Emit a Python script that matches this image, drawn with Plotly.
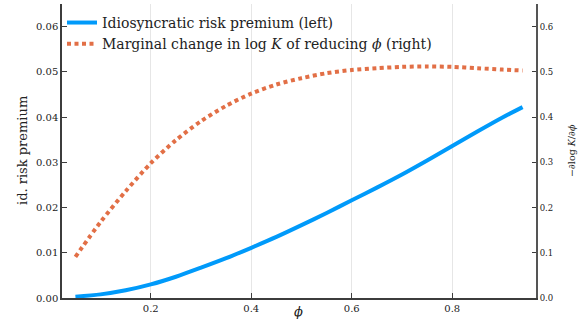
import plotly.graph_objects as go

phi = [0.05, 0.10, 0.15, 0.20, 0.25, 0.30, 0.35, 0.40, 0.45, 0.50,
       0.55, 0.60, 0.65, 0.70, 0.75, 0.80, 0.85, 0.90, 0.94]
risk_premium = [0.0003, 0.0008, 0.0017, 0.0030, 0.0047, 0.0067, 0.0088, 0.0111, 0.0135, 0.0161,
                0.0188, 0.0216, 0.0244, 0.0273, 0.0304, 0.0336, 0.0368, 0.0399, 0.0422]
marginal_logK = [0.091, 0.168, 0.236, 0.298, 0.349, 0.391, 0.425, 0.452, 0.472, 0.486,
                 0.497, 0.504, 0.508, 0.511, 0.512, 0.511, 0.508, 0.505, 0.503]

left_ticks = [0.00, 0.01, 0.02, 0.03, 0.04, 0.05, 0.06]
right_ticks = [0.0, 0.1, 0.2, 0.3, 0.4, 0.5, 0.6]
x_ticks = [0.2, 0.4, 0.6, 0.8]

FONT = "DejaVu Serif"
AX = "#3c3c3c"

fig = go.Figure()
fig.add_trace(go.Scatter(x=phi, y=risk_premium, mode="lines",
                         name="Idiosyncratic risk premium (left)",
                         line=dict(color="#009AFA", width=4, shape="spline", smoothing=0.8), yaxis="y"))
fig.add_trace(go.Scatter(x=phi, y=marginal_logK, mode="lines",
                         name="Marginal change in log <i>K</i> of reducing <i>ϕ</i> (right)",
                         line=dict(color="#E26F46", width=4, dash="4px,3.5px", shape="spline", smoothing=0.8),
                         yaxis="y2"))

fig.update_layout(
    width=588, height=322,
    margin=dict(l=62, r=52, t=4, b=24),
    paper_bgcolor="white", plot_bgcolor="white",
    font=dict(family=FONT, color="#222"),
    showlegend=True,
    legend=dict(x=0.0, y=0.99, xanchor="left", yanchor="top",
                bgcolor="rgba(255,255,255,0)", font=dict(size=14, family=FONT),
                itemwidth=30, tracegroupgap=0),
    xaxis=dict(range=[0.0233, 0.9667], tickvals=x_ticks, ticktext=[f"{v:.1f}" for v in x_ticks],
               ticks="inside", ticklen=5, tickcolor=AX, showline=True, linecolor=AX, linewidth=1.5,
               showgrid=True, gridcolor="#e6e6e6", gridwidth=1, zeroline=False,
               tickfont=dict(size=10, family=FONT)),
    yaxis=dict(range=[0, 0.065], tickvals=left_ticks, ticktext=[f"{v:.2f}" for v in left_ticks],
               ticks="inside", ticklen=5, tickcolor=AX, showline=True, linecolor=AX, linewidth=1.5,
               showgrid=False, zeroline=False, tickfont=dict(size=10, family=FONT)),
    yaxis2=dict(range=[0, 0.65], tickvals=right_ticks, ticktext=[f"{v:.1f}" for v in right_ticks],
                overlaying="y", side="right", anchor="x",
                ticks="inside", ticklen=4, tickcolor=AX, showline=True, linecolor="#555", linewidth=2,
                showgrid=False, zeroline=False, tickfont=dict(size=8.5, family=FONT)),
    annotations=[
        dict(text="id. risk premium", xref="paper", yref="paper", x=(22 - 62) / 474, y=0.5,
             xanchor="center", yanchor="middle",
             textangle=-90, showarrow=False, font=dict(size=13, family=FONT)),
        dict(text="−∂log <i>K</i>/∂<i>ϕ</i>", xref="paper", yref="paper", x=(571 - 62) / 474, y=0.5,
             xanchor="center", yanchor="middle",
             textangle=-90, showarrow=False, font=dict(size=9.5, family=FONT)),
        dict(text="<i>ϕ</i>", xref="paper", yref="paper", x=(298 - 62) / 474, y=-0.045,
             xanchor="center", yanchor="middle", showarrow=False, font=dict(size=13, family=FONT)),
    ],
)

fig.write_html("out.html")
